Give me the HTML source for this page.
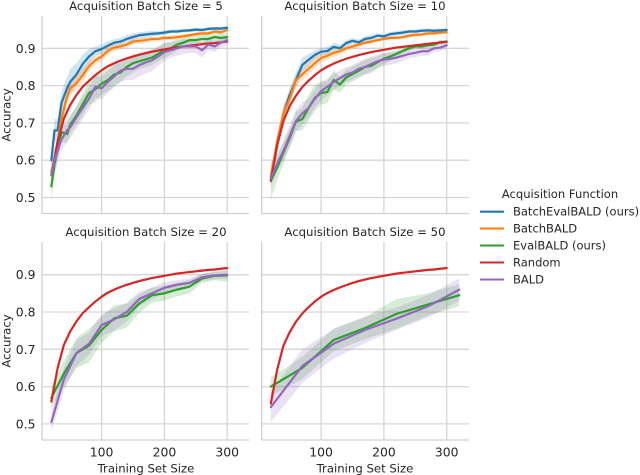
<!DOCTYPE html>
<html>
<head>
<meta charset="utf-8">
<style>
html,body{margin:0;padding:0;background:#fff;width:640px;height:475px;overflow:hidden}
svg{display:block;filter:blur(0.35px)}
text{font-family:"DejaVu Sans","Liberation Sans",sans-serif;fill:#262626}
</style>
</head>
<body>
<svg id="chart" width="640" height="475" viewBox="0 0 640 475" xmlns="http://www.w3.org/2000/svg">
  <g id="panels"></g>
  <g id="legend">
    <text x="560" y="198" text-anchor="middle" font-size="11.6">Acquisition Function</text>
    <line x1="480" x2="504" y1="211.7" y2="211.7" stroke="#1f77b4" stroke-width="2.1"/>
    <text x="513" y="215.7" font-size="11.5">BatchEvalBALD (ours)</text>
    <line x1="480" x2="504" y1="228.5" y2="228.5" stroke="#ff7f0e" stroke-width="2.1"/>
    <text x="513" y="232.5" font-size="11.5">BatchBALD</text>
    <line x1="480" x2="504" y1="245.5" y2="245.5" stroke="#2ca02c" stroke-width="2.1"/>
    <text x="513" y="249.5" font-size="11.5">EvalBALD (ours)</text>
    <line x1="480" x2="504" y1="262.5" y2="262.5" stroke="#d62728" stroke-width="2.1"/>
    <text x="513" y="266.5" font-size="11.5">Random</text>
    <line x1="480" x2="504" y1="279.5" y2="279.5" stroke="#9467bd" stroke-width="2.1"/>
    <text x="513" y="283.5" font-size="11.5">BALD</text>
  </g>
</svg>
<script>
const xTickValues = [100, 200, 300];
const yTickValues = [0.5, 0.6, 0.7, 0.8, 0.9];

const xRandom = [20,30,40,50,60,70,80,90,100,110,120,130,140,150,160,170,180,190,200,210,220,230,240,250,260,270,280,290,300];
const randomBand = [.006,.005,.005,.004,.004,.004,.004,.003,.003,.003,.003,.003,.003,.003,.003,.003,.003,.003,.003,.003,.003,.003,.003,.003,.003,.003,.003,.003,.003];

const x5 = [20,25,30,36,45,50,60,70,80,90,100,110,120,130,140,150,160,170,180,190,200,210,220,230,240,250,260,270,280,290,300];
const blue5 = [.60,.68,.68,.753,.793,.81,.83,.858,.878,.892,.898,.907,.915,.918,.925,.93,.935,.937,.939,.94,.942,.945,.945,.947,.948,.95,.949,.952,.953,.953,.955];
const blue5Band = [.02,.03,.03,.03,.03,.035,.03,.025,.02,.012,.012,.012,.01,.01,.01,.01,.008,.008,.008,.006,.006,.005,.005,.005,.005,.005,.005,.005,.005,.005,.005];
const orange5 = [.57,.60,.65,.71,.77,.793,.806,.828,.852,.868,.878,.893,.902,.905,.91,.918,.92,.922,.925,.925,.928,.928,.93,.932,.935,.938,.94,.94,.945,.943,.949];
const orange5Band = [.02,.02,.02,.02,.02,.02,.02,.018,.015,.012,.012,.01,.01,.008,.008,.008,.008,.008,.006,.006,.006,.006,.006,.006,.005,.005,.005,.005,.005,.005,.005];
const red5 = [.56,.65,.712,.748,.775,.797,.813,.828,.841,.852,.86,.867,.873,.878,.883,.887,.891,.894,.897,.90,.903,.905,.907,.909,.911,.913,.914,.916,.918];
const green5 = [.53,.59,.63,.675,.67,.695,.72,.75,.78,.79,.805,.815,.83,.835,.85,.86,.865,.87,.875,.885,.895,.90,.91,.915,.922,.922,.925,.925,.93,.928,.93];
const green5Band = [.04,.035,.03,.025,.025,.025,.025,.03,.03,.035,.03,.03,.03,.025,.025,.025,.02,.02,.02,.02,.02,.018,.015,.012,.012,.012,.012,.012,.012,.012,.012];
const purple5 = [.56,.60,.625,.655,.68,.688,.715,.74,.765,.797,.793,.81,.825,.84,.845,.845,.855,.862,.868,.878,.89,.895,.90,.905,.905,.905,.895,.91,.905,.915,.922];
const purple5Band = [.04,.035,.03,.03,.03,.03,.03,.03,.03,.03,.03,.03,.03,.03,.03,.03,.03,.03,.03,.025,.025,.02,.02,.02,.018,.018,.02,.015,.015,.012,.012];

const x10 = [20,30,40,50,60,70,80,90,100,110,120,130,140,150,160,170,180,190,200,210,220,230,240,250,260,270,280,290,300];
const blue10 = [.555,.64,.725,.775,.815,.855,.869,.882,.891,.893,.904,.90,.914,.92,.916,.925,.928,.934,.932,.938,.94,.942,.945,.945,.947,.948,.947,.948,.949];
const blue10Band = [.02,.025,.02,.02,.02,.02,.016,.012,.01,.01,.01,.01,.008,.008,.008,.008,.008,.006,.006,.006,.006,.006,.005,.005,.005,.005,.005,.005,.005];
const orange10 = [.555,.65,.725,.765,.815,.83,.845,.86,.874,.88,.888,.892,.90,.905,.91,.915,.918,.922,.925,.928,.928,.93,.934,.936,.937,.94,.94,.942,.943];
const orange10Band = [.025,.02,.02,.018,.018,.016,.016,.015,.012,.012,.012,.01,.01,.008,.008,.006,.006,.005,.005,.005,.005,.005,.005,.005,.004,.004,.004,.004,.004];
const red10 = [.545,.64,.705,.745,.773,.796,.813,.828,.841,.851,.859,.866,.872,.877,.882,.886,.89,.893,.896,.899,.902,.904,.906,.908,.91,.912,.914,.915,.918];
const green10 = [.545,.58,.62,.66,.704,.71,.74,.767,.78,.783,.815,.803,.822,.831,.84,.85,.853,.863,.872,.878,.885,.893,.90,.905,.905,.908,.91,.917,.917];
const green10Band = [.05,.035,.03,.025,.025,.03,.035,.035,.03,.03,.025,.022,.02,.02,.02,.02,.02,.016,.014,.012,.01,.008,.008,.006,.006,.006,.006,.006,.006];
const purple10 = [.55,.59,.625,.665,.705,.725,.74,.765,.785,.797,.81,.82,.83,.835,.845,.85,.858,.865,.87,.872,.875,.88,.885,.888,.892,.892,.90,.902,.908];
const purple10Band = [.02,.02,.025,.03,.03,.03,.025,.025,.025,.022,.022,.02,.02,.02,.02,.02,.02,.018,.018,.016,.016,.014,.012,.012,.012,.012,.01,.01,.01];

const x20 = [20,40,60,80,100,120,140,160,180,200,220,240,260,280,300];
const red20 = [.56,.65,.712,.748,.775,.797,.813,.828,.841,.852,.86,.867,.873,.878,.883,.887,.891,.894,.897,.90,.903,.905,.907,.909,.911,.913,.914,.916,.918];
const green20 = [.57,.635,.69,.71,.752,.783,.79,.823,.845,.85,.86,.868,.89,.897,.898];
const green20Band = [.03,.035,.04,.045,.035,.035,.032,.025,.02,.02,.018,.018,.012,.012,.017];
const purple20 = [.505,.62,.69,.715,.765,.78,.80,.835,.85,.865,.873,.878,.893,.898,.90];
const purple20Band = [.025,.03,.035,.03,.03,.03,.025,.02,.016,.015,.012,.012,.01,.01,.01];

const x50Active = [20,70,120,170,220,270,320];
const green50 = [.60,.65,.725,.757,.795,.82,.845];
const green50Band = [.025,.03,.03,.03,.04,.03,.03];
const purple50 = [.545,.655,.715,.752,.782,.815,.86];
const purple50Band = [.04,.045,.04,.035,.03,.03,.03];
const red50 = [.555,.645,.71,.746,.774,.796,.813,.828,.841,.851,.859,.866,.872,.878,.883,.887,.891,.894,.897,.90,.903,.905,.907,.909,.911,.913,.914,.916,.918];

const NS = 'http://www.w3.org/2000/svg';
const root = document.getElementById('panels');

function make(tag, attrs, parent) {
  const el = document.createElementNS(NS, tag);
  for (const k in attrs) el.setAttribute(k, attrs[k]);
  parent.appendChild(el);
  return el;
}

function drawPanel(cfg) {
  const xScale = v => cfg.x0 + v * 0.628;
  const yScale = v => cfg.y9 + (0.9 - v) * 373;
  const g = make('g', {}, root);
  
  

  yTickValues.forEach(t => {
    const line = make('line', {x1: cfg.left, x2: cfg.right, y1: yScale(t), y2: yScale(t), stroke: '#d6d6d6', 'stroke-width': 1.3}, g);
    
    
    if (cfg.yLabels) {
      const lab = make('text', {x: cfg.left - 6.5, y: yScale(t) + 4.5, 'text-anchor': 'end', 'font-size': 12.4}, g);
      lab.textContent = t.toFixed(1);
      
      
    }
  });
  xTickValues.forEach(t => {
    const line = make('line', {x1: xScale(t), x2: xScale(t), y1: cfg.top, y2: cfg.bottom, stroke: '#d6d6d6', 'stroke-width': 1.3}, g);
    
    
    if (cfg.xLabels) {
      const lab = make('text', {x: xScale(t), y: cfg.bottom + 16.5, 'text-anchor': 'middle', 'font-size': 12.4}, g);
      lab.textContent = String(t);
      
      
    }
  });

  const ySpine = make('line', {x1: cfg.left, x2: cfg.left, y1: cfg.top, y2: cfg.bottom, stroke: '#d0d0d0', 'stroke-width': 1.3}, g);
  
  
  const xSpine = make('line', {x1: cfg.left, x2: cfg.right, y1: cfg.bottom, y2: cfg.bottom, stroke: '#d0d0d0', 'stroke-width': 1.3}, g);
  
  

  cfg.series.forEach(s => {
    const upper = s.xs.map((x, i) => xScale(x).toFixed(2) + ',' + yScale(s.ys[i] + s.band[i]).toFixed(2));
    const lower = s.xs.map((x, i) => xScale(x).toFixed(2) + ',' + yScale(s.ys[i] - s.band[i]).toFixed(2)).reverse();
    const band = make('polygon', {points: upper.concat(lower).join(' '), fill: s.color, 'fill-opacity': 0.2, stroke: 'none'}, g);
    
    
  });
  cfg.series.forEach(s => {
    const pts = s.xs.map((x, i) => xScale(x).toFixed(2) + ',' + yScale(s.ys[i]).toFixed(2)).join(' ');
    const line = make('polyline', {points: pts, fill: 'none', stroke: s.color, 'stroke-width': 2.2, 'stroke-linejoin': 'round', 'stroke-linecap': 'round'}, g);
    
    
  });

  const title = make('text', {x: cfg.titleX, y: cfg.top - 6, 'text-anchor': 'middle', 'font-size': 11.7}, g);
  title.textContent = cfg.title;
  
  

  if (cfg.yLabels) {
    const yt = make('text', {x: 0, y: 0, 'text-anchor': 'middle', 'font-size': 11.7, transform: 'translate(' + 10.5 + ',' + cfg.yTitleY + ') rotate(-90)'}, g);
    yt.textContent = 'Accuracy';
    
    
  }
  if (cfg.xLabels) {
    const xt = make('text', {x: cfg.xTitleX, y: cfg.bottom + 32.5, 'text-anchor': 'middle', 'font-size': 11.7}, g);
    xt.textContent = 'Training Set Size';
    
    
  }
}

const C = {blue: '#1f77b4', orange: '#ff7f0e', green: '#2ca02c', red: '#d62728', purple: '#9467bd'};

drawPanel({name: 'panel-batch-size-5', title: 'Acquisition Batch Size = 5', titleX: 146, x0: 38.8, y9: 48.3, left: 42, right: 249, top: 16, bottom: 213.5, yLabels: true, xLabels: false, yTitleY: 115,
  series: [
    {key: 'batchevalbald', color: C.blue, xs: x5, ys: blue5, band: blue5Band},
    {key: 'batchbald', color: C.orange, xs: x5, ys: orange5, band: orange5Band},
    {key: 'evalbald', color: C.green, xs: x5, ys: green5, band: green5Band},
    {key: 'random', color: C.red, xs: xRandom, ys: red5, band: randomBand},
    {key: 'bald', color: C.purple, xs: x5, ys: purple5, band: purple5Band}
  ]});
drawPanel({name: 'panel-batch-size-10', title: 'Acquisition Batch Size = 10', titleX: 365, x0: 258.3, y9: 48.3, left: 261.7, right: 469, top: 16, bottom: 213.5, yLabels: false, xLabels: false,
  series: [
    {key: 'batchevalbald', color: C.blue, xs: x10, ys: blue10, band: blue10Band},
    {key: 'batchbald', color: C.orange, xs: x10, ys: orange10, band: orange10Band},
    {key: 'evalbald', color: C.green, xs: x10, ys: green10, band: green10Band},
    {key: 'random', color: C.red, xs: xRandom, ys: red10, band: randomBand},
    {key: 'bald', color: C.purple, xs: x10, ys: purple10, band: purple10Band}
  ]});
drawPanel({name: 'panel-batch-size-20', title: 'Acquisition Batch Size = 20', titleX: 146, x0: 38.8, y9: 274.7, left: 42, right: 249, top: 242, bottom: 440, yLabels: true, xLabels: true, yTitleY: 341, xTitleX: 146,
  series: [
    {key: 'evalbald', color: C.green, xs: x20, ys: green20, band: green20Band},
    {key: 'random', color: C.red, xs: xRandom, ys: red20, band: randomBand},
    {key: 'bald', color: C.purple, xs: x20, ys: purple20, band: purple20Band}
  ]});
drawPanel({name: 'panel-batch-size-50', title: 'Acquisition Batch Size = 50', titleX: 365, x0: 258.3, y9: 274.7, left: 261.7, right: 469, top: 242, bottom: 440, yLabels: false, xLabels: true, xTitleX: 365,
  series: [
    {key: 'evalbald', color: C.green, xs: x50Active, ys: green50, band: green50Band},
    {key: 'random', color: C.red, xs: xRandom, ys: red50, band: randomBand},
    {key: 'bald', color: C.purple, xs: x50Active, ys: purple50, band: purple50Band}
  ]});
</script>
</body>
</html>
